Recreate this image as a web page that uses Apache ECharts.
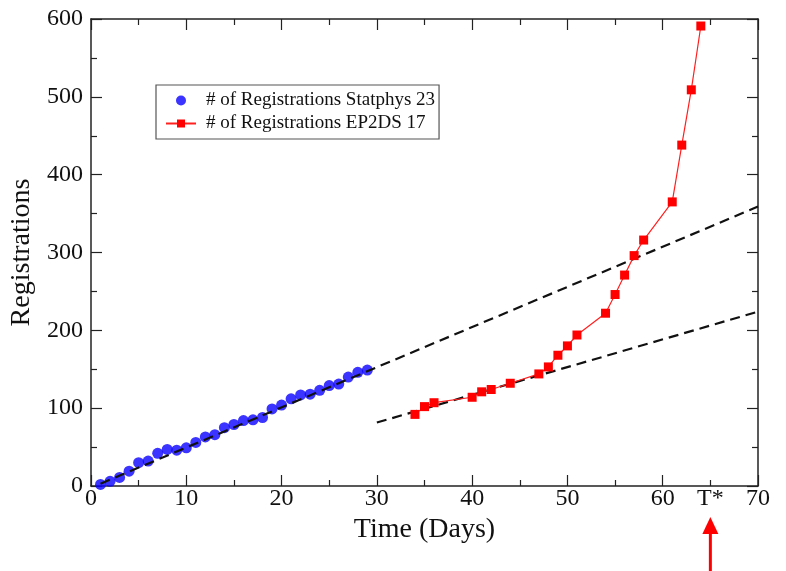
<!DOCTYPE html>
<html>
<head>
<meta charset="utf-8">
<script src="https://cdn.jsdelivr.net/npm/echarts@6/dist/echarts.min.js"></script>
<style>html,body{margin:0;padding:0;background:#fff}#c{width:786px;height:571px}</style>
</head>
<body>
<div id="c"></div>
<script>
// Statphys 23 registrations (day, count)
const statDays = [1,2,3,4,5,6,7,8,9,10,11,12,13,14,15,16,17,18,19,20,21,22,23,24,25,26,27,28,29];
const statRegs = [2,6,11,19,30,32,42,47,46,49,56,63,66,75,79,84,85,88,99,104,112,117,118,123,129,131,140,146,149];
// EP2DS 17 registrations
const epDays = [34,35,36,40,41,42,44,47,48,49,50,51,54,55,56,57,58,61,62,63,64];
const epRegs = [92,102,107,114,121,124,132,144,153,168,180,194,222,246,271,296,316,365,438,509,591];
// dashed linear fits (endpoints)
const fitUpperX = [1, 70];
const fitUpperY = [3, 359];
const fitLowerX = [30, 70];
const fitLowerY = [81.5, 224];
// axis ticks
const xMin = 0, xMax = 70, xStep = 10;
const yMin = 0, yMax = 600, yStep = 100;
const tStarDay = 65;
const tStarLabel = 'T*';

const zip = (a, b) => a.map((v, i) => [v, b[i]]);
const FONT = 'Liberation Serif';
const axisColor = '#222';

const chart = echarts.init(document.getElementById('c'), null, {renderer: 'canvas'});

const mirrorX = (pos) => ({
  type: 'value', position: pos, min: xMin, max: xMax, interval: xStep,
  axisLine: {show: true, onZero: false, lineStyle: {color: axisColor, width: 1.5}},
  axisTick: {show: true, inside: true, length: 11, lineStyle: {color: axisColor, width: 1.2}},
  minorTick: {show: true, splitNumber: 2, length: 6, lineStyle: {color: axisColor, width: 1.2}},
  axisLabel: {show: false}, splitLine: {show: false}
});
const mirrorY = (pos) => ({
  type: 'value', position: pos, min: yMin, max: yMax, interval: yStep,
  axisLine: {show: true, onZero: false, lineStyle: {color: axisColor, width: 1.5}},
  axisTick: {show: true, inside: true, length: 11, lineStyle: {color: axisColor, width: 1.2}},
  minorTick: {show: true, splitNumber: 2, length: 6, lineStyle: {color: axisColor, width: 1.2}},
  axisLabel: {show: false}, splitLine: {show: false}
});

const xBottom = mirrorX('bottom');
xBottom.axisLabel = {show: true, fontFamily: FONT, fontSize: 24, color: '#111', margin: 1};
xBottom.name = 'Time (Days)';
xBottom.nameLocation = 'middle';
xBottom.nameGap = 20;
xBottom.nameTextStyle = {fontFamily: FONT, fontSize: 28, color: '#111'};

const xStar = {
  type: 'value', position: 'bottom', min: xMin, max: xMax, interval: 5,
  axisLine: {show: false}, axisTick: {show: false}, splitLine: {show: false},
  axisLabel: {show: true, fontFamily: FONT, fontSize: 24, color: '#111', margin: 1,
    formatter: v => (v === tStarDay ? tStarLabel : '')}
};

const yLeft = mirrorY('left');
yLeft.axisLabel = {show: true, fontFamily: FONT, fontSize: 24, color: '#111', margin: 8};
yLeft.name = 'Registrations';
yLeft.nameLocation = 'middle';
yLeft.nameGap = 49;
yLeft.nameTextStyle = {fontFamily: FONT, fontSize: 28, color: '#111'};

chart.setOption({
  animation: false,
  backgroundColor: '#fff',
  grid: {left: 91, right: 28, top: 19, bottom: 85, containLabel: false, outerBoundsMode: 'none'},
  xAxis: [xBottom, xStar, mirrorX('top')],
  yAxis: [yLeft, mirrorY('right')],
  legend: {
    left: 156, top: 85, orient: 'vertical',
    padding: [6, 4, 6, 9], itemGap: 4,
    itemWidth: 30, itemHeight: 10,
    backgroundColor: '#fff', borderColor: '#555', borderWidth: 1.2,
    textStyle: {fontFamily: FONT, fontSize: 19, color: '#111', padding: [0, 0, 0, 5]},
    data: [
      {name: '# of Registrations Statphys 23', icon: 'circle'},
      {name: '# of Registrations EP2DS 17'}
    ]
  },
  series: [
    {
      name: '# of Registrations Statphys 23', type: 'scatter',
      xAxisIndex: 0, yAxisIndex: 0, z: 2,
      data: zip(statDays, statRegs),
      symbol: 'circle', symbolSize: 11,
      itemStyle: {color: '#0a00ff'}
    },
    {
      name: 'fitUpper', type: 'line', xAxisIndex: 0, yAxisIndex: 0, z: 3,
      data: zip(fitUpperX, fitUpperY), showSymbol: false, symbol: 'none',
      lineStyle: {color: '#111', width: 2.2, type: [10, 6]}, silent: true
    },
    {
      name: 'fitLower', type: 'line', xAxisIndex: 0, yAxisIndex: 0, z: 3,
      data: zip(fitLowerX, fitLowerY), showSymbol: false, symbol: 'none',
      lineStyle: {color: '#111', width: 2.2, type: [10, 6]}, silent: true
    },
    {
      name: '# of Registrations EP2DS 17', type: 'line',
      xAxisIndex: 0, yAxisIndex: 0, z: 4,
      data: zip(epDays, epRegs),
      symbol: 'rect', symbolSize: 9, showSymbol: true,
      lineStyle: {color: '#ff2020', width: 1.2},
      itemStyle: {color: '#ff0000'}
    }
  ]
});

// red arrow pointing at T*
const ax = chart.convertToPixel({xAxisIndex: 0}, tStarDay);
chart.setOption({
  graphic: [
    {type: 'polygon', shape: {points: [[ax, 517], [ax - 8, 534], [ax + 8, 534]]}, style: {fill: '#ff0000'}},
    {type: 'rect', shape: {x: ax - 1.5, y: 530, width: 3, height: 45}, style: {fill: '#ff0000'}}
  ]
});
</script>
</body>
</html>
